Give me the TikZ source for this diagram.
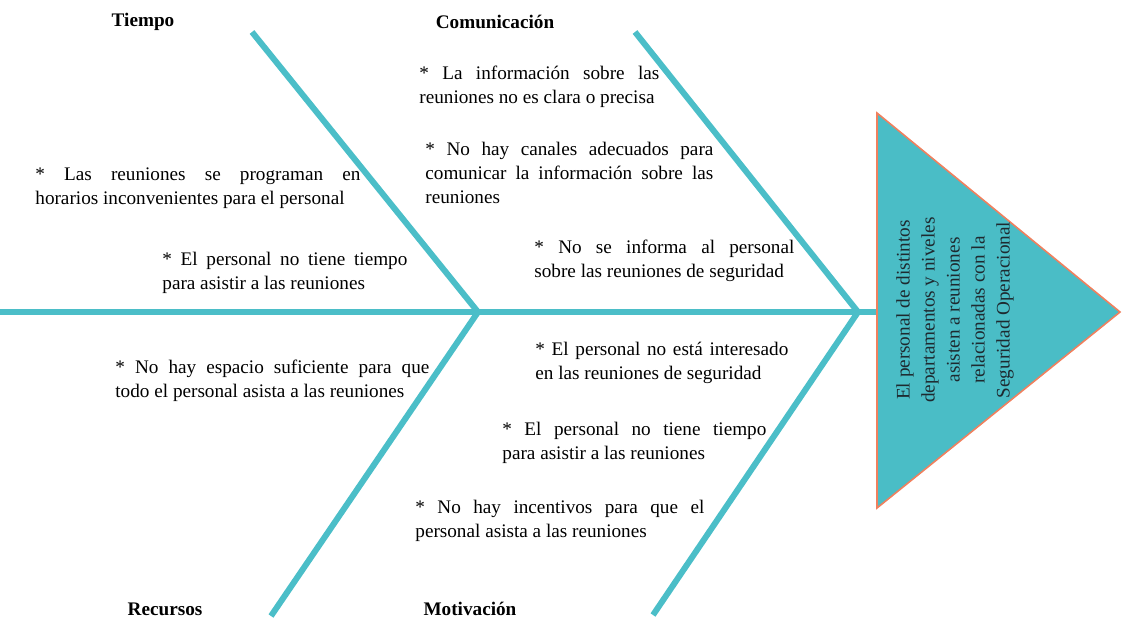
\documentclass[tikz,border=0pt]{standalone}
\usepackage{fontspec}
\setmainfont{Liberation Serif}
\usepackage{xcolor}
\definecolor{bone}{HTML}{4BBEC8}
\definecolor{headfill}{HTML}{4ABDC6}
\definecolor{headline}{HTML}{F0805E}
\definecolor{headtext}{HTML}{1E2A30}
\usepackage{tikz}

\begin{document}
\begin{tikzpicture}[x=0.5pt, y=-0.5pt,
    bone/.style={draw=bone, line width=3pt, line join=miter},
    cause/.style={inner sep=0pt, align=justify, font=\fontsize{9.6}{12}\selectfont},
    category/.style={inner sep=0pt, font=\fontsize{9.6}{12}\selectfont\bfseries}]
  \useasboundingbox (0,0) rectangle (1122,632);

  % spine, bones and junctions
  \coordinate (tail) at (0,312);
  \coordinate (jA) at (478,312);
  \coordinate (jB) at (858,312);
  \coordinate (topA) at (252,32);
  \coordinate (botA) at (271,616);
  \coordinate (topB) at (635,32);
  \coordinate (botB) at (653,615);
  \coordinate (headL) at (877,312);
  \draw[bone] (tail) -- (headL);
  \draw[bone] (topA) -- (jA) -- (botA);
  \draw[bone] (topB) -- (jB) -- (botB);

  % effect (head)
  \coordinate (headT) at (877,113);
  \coordinate (headB) at (877,508);
  \coordinate (headR) at (1120,312);
  \filldraw[fill=headfill, draw=headline, line width=0.8pt] (headT) -- (headR) -- (headB) -- cycle;
  \node[rotate=90, align=center, inner sep=0pt, text=headtext,
        font=\fontsize{9.6}{12.5}\selectfont] (effect) at (955,310)
    {El personal de distintos\\departamentos y niveles\\asisten a reuniones\\relacionadas con la\\Seguridad Operacional};

  % categories
  \foreach \nm/\lab/\xpos/\ypos in {tiempo/Tiempo/143/22, comunicacion/Comunicación/495/22,
                                   recursos/Recursos/165/609, motivacion/Motivación/470/609} {
    \node[category] (\nm) at (\xpos,\ypos) {\lab};
  }

  % causes
  \foreach \nm/\xpos/\ypos/\tw/\txt in {
      tiempoA/35/180/162.5/{* Las reuniones se programan en\linebreak horarios inconvenientes para el personal},
      tiempoB/162/265/122.5/{* El personal no tiene tiempo\linebreak para asistir a las reuniones},
      comunicacionA/419/79/120/{* La información sobre las\linebreak reuniones no es clara o precisa},
      comunicacionB/425/155/144/{* No hay canales adecuados para\linebreak comunicar la información sobre las\linebreak reuniones},
      comunicacionC/534/253/130/{* No se informa al personal\linebreak sobre las reuniones de seguridad},
      recursosA/115/373/157/{* No hay espacio suficiente para que\linebreak todo el personal asista a las reuniones},
      motivacionA/535/355/126.5/{* El personal no está interesado\linebreak en las reuniones de seguridad},
      motivacionB/502/435/132/{* El personal no tiene tiempo\linebreak para asistir a las reuniones},
      motivacionC/415/513/144.5/{* No hay incentivos para que el\linebreak personal asista a las reuniones}} {
    \node[cause, text width=\tw pt, anchor=base west] (\nm) at (\xpos,\ypos) {\txt};
  }
\end{tikzpicture}
\end{document}
